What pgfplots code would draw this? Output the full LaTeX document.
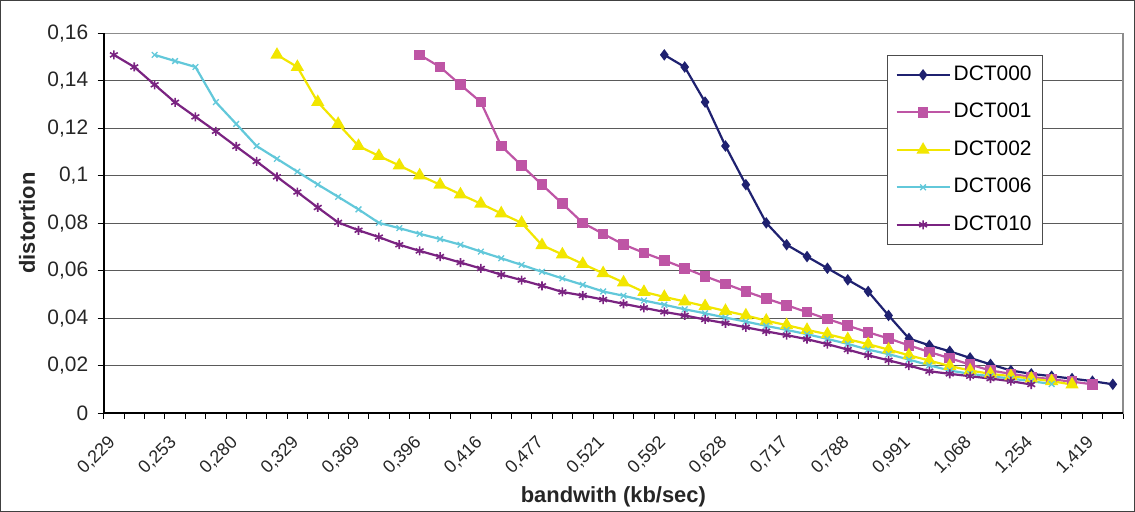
\documentclass[border=0pt]{standalone}
\usepackage{pgfplots}
\pgfplotsset{compat=1.18}
\usepackage{fontspec}
\setmainfont{Liberation Sans}
\definecolor{c0}{HTML}{1F2170}
\definecolor{c1}{HTML}{BE55A5}
\definecolor{c2}{HTML}{F2E600}
\definecolor{c6}{HTML}{62C8DA}
\definecolor{c10}{HTML}{7A2381}
\definecolor{gridc}{HTML}{5A5A5A}
\begin{document}
\begin{tikzpicture}[x=1bp,y=1bp]
\useasboundingbox (0,0) rectangle (1135,512);
\draw[black!75, line width=1bp] (0.5,0.5) rectangle (1134.5,511.5);
\begin{axis}[
  at={(103.7bp,99bp)}, anchor=south west,
  scale only axis, width=1019.3bp, height=379.7bp,
  xmin=-0.5, xmax=49.5, ymin=0, ymax=0.16,
  axis line style={draw=black!45, line width=1.5bp},
  tick pos=left, tick align=outside,
  major tick length=6bp,
  every tick/.style={black, line width=0.8bp},
  xtick={-0.5,0.5,...,49.5}, xticklabels={},
  extra x ticks={0,3,...,48},
  extra x tick labels={{0,229},{0,253},{0,280},{0,329},{0,369},{0,396},{0,416},{0,477},{0,521},{0,592},{0,628},{0,717},{0,788},{0,991},{1,068},{1,254},{1,419}},
  extra x tick style={major tick length=0pt, grid=none,
    tick label style={xshift=1bp, yshift=-24bp, rotate=45, anchor=east, font=\fontsize{18}{22}\selectfont}},
  ytick={0,0.02,...,0.16},
  yticklabels={0,{0,02},{0,04},{0,06},{0,08},{0,1},{0,12},{0,14},{0,16}},
  ymajorgrids, major grid style={gridc, line width=1bp},
  tick label style={font=\fontsize{21}{25}\selectfont, black!85},
  yticklabel style={xshift=-6bp},
  xlabel={\textbf{bandwith (kb/sec)}},
  ylabel={\textbf{distortion}},
  label style={font=\fontsize{22}{26}\selectfont, black!85},
  xlabel style={at={(axis description cs:0.5,-0.22)}, anchor=center},
  ylabel style={at={(axis description cs:-0.0752,0.5)}, anchor=center},
  legend style={at={(0.9215,0.9429)}, anchor=north east,
    draw=black!70, line width=0.8bp, fill=white,
    font=\fontsize{21}{25}\selectfont,
    row sep=14.5bp, inner xsep=8bp, inner ysep=8bp,
    nodes={text height=15bp, text depth=4bp, inner xsep=3bp}},
  legend cell align=left,
  legend image code/.code={\draw[mark repeat=2,mark phase=2] plot coordinates {(0bp,0bp) (26.5bp,0bp) (53bp,0bp)};},
  clip=false,
  after end axis/.code={\draw[black, line width=2bp] (rel axis cs:0,1) -- (rel axis cs:0,0) -- (rel axis cs:1,0);},
]
\addplot[c0, line width=2.2bp, mark=diamond*, mark size=4bp, mark options={solid, fill=c0}] coordinates {
(27,0.1509)(28,0.1458)(29,0.1310)(30,0.1125)(31,0.0962)(32,0.0801)(33,0.0709)(34,0.0659)(35,0.0610)(36,0.0561)(37,0.0512)(38,0.0411)(39,0.0314)(40,0.0285)(41,0.0260)(42,0.0232)(43,0.0205)(44,0.0179)(45,0.0165)(46,0.0155)(47,0.0145)(48,0.0134)(49,0.0121)};
\addlegendentry{DCT000}
\addplot[c1, line width=2.2bp, mark=square*, mark size=4.2bp, mark options={solid, fill=c1}] coordinates {
(15,0.1509)(16,0.1458)(17,0.1383)(18,0.1310)(19,0.1125)(20,0.1043)(21,0.0962)(22,0.0882)(23,0.0801)(24,0.0755)(25,0.0710)(26,0.0675)(27,0.0643)(28,0.0610)(29,0.0576)(30,0.0544)(31,0.0512)(32,0.0482)(33,0.0454)(34,0.0425)(35,0.0396)(36,0.0368)(37,0.0340)(38,0.0314)(39,0.0285)(40,0.0257)(41,0.0231)(42,0.0204)(43,0.0179)(44,0.0165)(45,0.0152)(46,0.0142)(47,0.0132)(48,0.0121)};
\addlegendentry{DCT001}
\addplot[c2, line width=2.2bp, mark=triangle*, mark size=5.5bp, mark options={solid, fill=c2}] coordinates {
(8,0.1509)(9,0.1458)(10,0.1310)(11,0.1218)(12,0.1125)(13,0.1083)(14,0.1043)(15,0.1001)(16,0.0962)(17,0.0921)(18,0.0882)(19,0.0841)(20,0.0801)(21,0.0707)(22,0.0668)(23,0.0628)(24,0.0589)(25,0.0550)(26,0.0510)(27,0.0489)(28,0.0470)(29,0.0450)(30,0.0430)(31,0.0411)(32,0.0389)(33,0.0370)(34,0.0350)(35,0.0332)(36,0.0311)(37,0.0290)(38,0.0267)(39,0.0243)(40,0.0221)(41,0.0198)(42,0.0179)(43,0.0165)(44,0.0155)(45,0.0145)(46,0.0134)(47,0.0120)};
\addlegendentry{DCT002}
\addplot[c6, line width=2.2bp, mark=x, mark size=4bp, mark options={solid, line width=1.3bp}] coordinates {
(2,0.1509)(3,0.1483)(4,0.1458)(5,0.1310)(6,0.1218)(7,0.1125)(8,0.1071)(9,0.1017)(10,0.0963)(11,0.0911)(12,0.0858)(13,0.0801)(14,0.0779)(15,0.0755)(16,0.0733)(17,0.0709)(18,0.0680)(19,0.0652)(20,0.0624)(21,0.0595)(22,0.0567)(23,0.0540)(24,0.0512)(25,0.0494)(26,0.0474)(27,0.0456)(28,0.0437)(29,0.0420)(30,0.0402)(31,0.0385)(32,0.0367)(33,0.0350)(34,0.0332)(35,0.0312)(36,0.0291)(37,0.0267)(38,0.0248)(39,0.0225)(40,0.0201)(41,0.0179)(42,0.0165)(43,0.0155)(44,0.0145)(45,0.0134)(46,0.0122)};
\addlegendentry{DCT006}
\addplot[c10, line width=2.2bp, mark=asterisk, mark size=4.5bp, mark options={solid, line width=1.6bp}] coordinates {
(0,0.1509)(1,0.1458)(2,0.1383)(3,0.1309)(4,0.1248)(5,0.1187)(6,0.1123)(7,0.1060)(8,0.0995)(9,0.0931)(10,0.0866)(11,0.0803)(12,0.0770)(13,0.0741)(14,0.0709)(15,0.0683)(16,0.0659)(17,0.0634)(18,0.0609)(19,0.0583)(20,0.0560)(21,0.0536)(22,0.0510)(23,0.0495)(24,0.0478)(25,0.0460)(26,0.0443)(27,0.0426)(28,0.0411)(29,0.0394)(30,0.0378)(31,0.0361)(32,0.0344)(33,0.0328)(34,0.0311)(35,0.0290)(36,0.0267)(37,0.0243)(38,0.0222)(39,0.0200)(40,0.0176)(41,0.0165)(42,0.0155)(43,0.0145)(44,0.0134)(45,0.0120)};
\addlegendentry{DCT010}
\end{axis}
\end{tikzpicture}
\end{document}
